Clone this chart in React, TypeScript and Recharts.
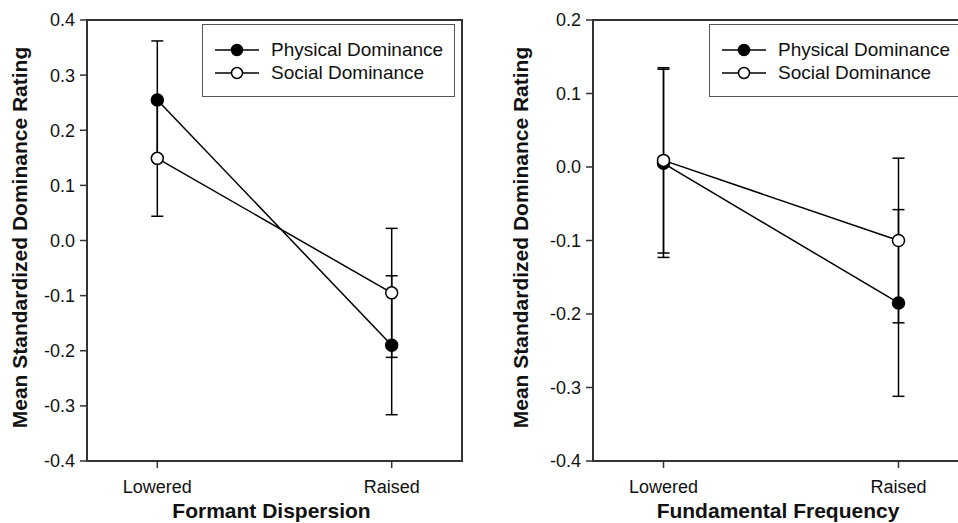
import React from "react";
import {
  LineChart,
  Line,
  XAxis,
  YAxis,
  ErrorBar,
  Legend,
  Label,
  ReferenceArea,
} from "recharts";

// ---- data ----
const categories = ["Lowered", "Raised"];
const seriesNames = ["Physical Dominance", "Social Dominance"];

const formantPhysical = [0.255, -0.19];
const formantPhysicalErr = [0.107, 0.126];
const formantSocial = [0.149, -0.095];
const formantSocialErr = [0.105, 0.117];

const f0Physical = [0.005, -0.185];
const f0PhysicalErr = [0.128, 0.127];
const f0Social = [0.009, -0.1];
const f0SocialErr = [0.126, 0.112];

const formantTicks = [-0.4, -0.3, -0.2, -0.1, 0, 0.1, 0.2, 0.3, 0.4];
const f0Ticks = [-0.4, -0.3, -0.2, -0.1, 0, 0.1, 0.2];

const FONT = "'Liberation Sans', Arial, Helvetica, sans-serif";
const AXIS = "#333";

function buildData(phys: number[], physErr: number[], soc: number[], socErr: number[]) {
  return categories.map((c, i) => ({
    x: i,
    name: c,
    physical: phys[i],
    physicalErr: physErr[i],
    social: soc[i],
    socialErr: socErr[i],
  }));
}

const formantData = buildData(formantPhysical, formantPhysicalErr, formantSocial, formantSocialErr);
const f0Data = buildData(f0Physical, f0PhysicalErr, f0Social, f0SocialErr);

const renderLegend = () => (
  <div
    style={{
      border: "1.5px solid #555",
      background: "#fff",
      boxSizing: "border-box",
      width: 253,
      height: 73,
      padding: "13px 0 0 12px",
      fontSize: 19,
      lineHeight: "23px",
      color: "#111",
      fontFamily: FONT,
    }}
  >
    {seriesNames.map((n, i) => (
      <div key={n} style={{ display: "flex", alignItems: "center", height: 23 }}>
        <svg width={44} height={14} style={{ display: "block" }}>
          <line x1={0} y1={7} x2={44} y2={7} stroke="#000" strokeWidth={1.5} />
          <circle cx={22} cy={7} r={5.5} fill={i === 0 ? "#000" : "#fff"} stroke="#000" strokeWidth={1.5} />
        </svg>
        <span style={{ marginLeft: 12, whiteSpace: "nowrap" }}>{n}</span>
      </div>
    ))}
  </div>
);

type PanelProps = {
  data: any[];
  ticks: number[];
  xTitle: string;
  width: number;
  yAxisWidth: number;
  marginRight: number;
  yTitleX: number;
  legendLeft: number;
};

function Panel({ data, ticks, xTitle, width, yAxisWidth, marginRight, yTitleX, legendLeft }: PanelProps) {
  const yMin = ticks[0];
  const yMax = ticks[ticks.length - 1];
  return (
    <LineChart
      width={width}
      height={523}
      data={data}
      margin={{ top: 20, right: marginRight, bottom: 0, left: 0 }}
      style={{ fontFamily: FONT }}
    >
      <ReferenceArea
        x1={-0.3}
        x2={1.3}
        y1={yMin}
        y2={yMax}
        fill="none"
        stroke={AXIS}
        strokeWidth={2}
        ifOverflow="visible"
      />
      <XAxis
        dataKey="x"
        type="number"
        domain={[-0.3, 1.3]}
        ticks={[0, 1]}
        tickFormatter={(v: number) => categories[v]}
        height={62}
        tickSize={7}
        tickMargin={12}
        axisLine={{ stroke: AXIS, strokeWidth: 2 }}
        tickLine={{ stroke: AXIS, strokeWidth: 1.5 }}
        tick={{ fill: "#111", fontSize: 18, fontFamily: FONT }}
        allowDataOverflow
      >
        <Label
          content={(props: any) => {
            const vb = props.viewBox || {};
            return (
              <text
                x={vb.x + vb.width / 2 - 3}
                y={vb.y + vb.height - 5}
                textAnchor="middle"
                fontSize={21}
                fontWeight="bold"
                fontFamily={FONT}
                fill="#111"
              >
                {xTitle}
              </text>
            );
          }}
        />
      </XAxis>
      <YAxis
        type="number"
        domain={[yMin, yMax]}
        ticks={ticks}
        tickFormatter={(v: number) => v.toFixed(1)}
        width={yAxisWidth}
        tickSize={7}
        tickMargin={5}
        axisLine={{ stroke: AXIS, strokeWidth: 2 }}
        tickLine={{ stroke: AXIS, strokeWidth: 1.5 }}
        tick={{ fill: "#111", fontSize: 18, fontFamily: FONT }}
        allowDataOverflow
      >
        <Label
          content={(props: any) => {
            const vb = props.viewBox || {};
            const cx = vb.x + yTitleX;
            const cy = vb.y + vb.height / 2 - 3;
            return (
              <text
                x={cx}
                y={cy}
                transform={`rotate(-90, ${cx}, ${cy})`}
                textAnchor="middle"
                fontSize={21}
                fontWeight="bold"
                fontFamily={FONT}
                fill="#111"
              >
                Mean Standardized Dominance Rating
              </text>
            );
          }}
        />
      </YAxis>
      <Legend
        layout="horizontal"
        verticalAlign="middle"
        align="center"
        content={renderLegend}
        wrapperStyle={{ left: legendLeft, top: 24, width: 253, height: 73 }}
      />
      <Line
        type="linear"
        dataKey="physical"
        name={seriesNames[0]}
        stroke="#000"
        strokeWidth={1.5}
        dot={{ r: 6, fill: "#000", stroke: "#000", strokeWidth: 1.5 }}
        activeDot={false}
        isAnimationActive={false}
      >
        <ErrorBar dataKey="physicalErr" direction="y" width={6} stroke="#000" strokeWidth={1.5} />
      </Line>
      <Line
        type="linear"
        dataKey="social"
        name={seriesNames[1]}
        stroke="#000"
        strokeWidth={1.5}
        dot={{ r: 6, fill: "#fff", stroke: "#000", strokeWidth: 1.5 }}
        activeDot={false}
        isAnimationActive={false}
      >
        <ErrorBar dataKey="socialErr" direction="y" width={6} stroke="#000" strokeWidth={1.5} />
      </Line>
    </LineChart>
  );
}

export default function App() {
  return (
    <div
      style={{
        position: "fixed",
        left: 0,
        top: 0,
        width: 958,
        height: 523,
        overflow: "hidden",
        background: "#fff",
      }}
    >
      <div style={{ position: "absolute", left: 0, top: 0 }}>
        <Panel
          data={formantData}
          ticks={formantTicks}
          xTitle="Formant Dispersion"
          width={480}
          yAxisWidth={87}
          marginRight={18}
          yTitleX={27}
          legendLeft={202}
        />
      </div>
      <div style={{ position: "absolute", left: 480, top: 0 }}>
        <Panel
          data={f0Data}
          ticks={f0Ticks}
          xTitle="Fundamental Frequency"
          width={500}
          yAxisWidth={113}
          marginRight={11}
          yTitleX={48}
          legendLeft={229}
        />
      </div>
    </div>
  );
}
